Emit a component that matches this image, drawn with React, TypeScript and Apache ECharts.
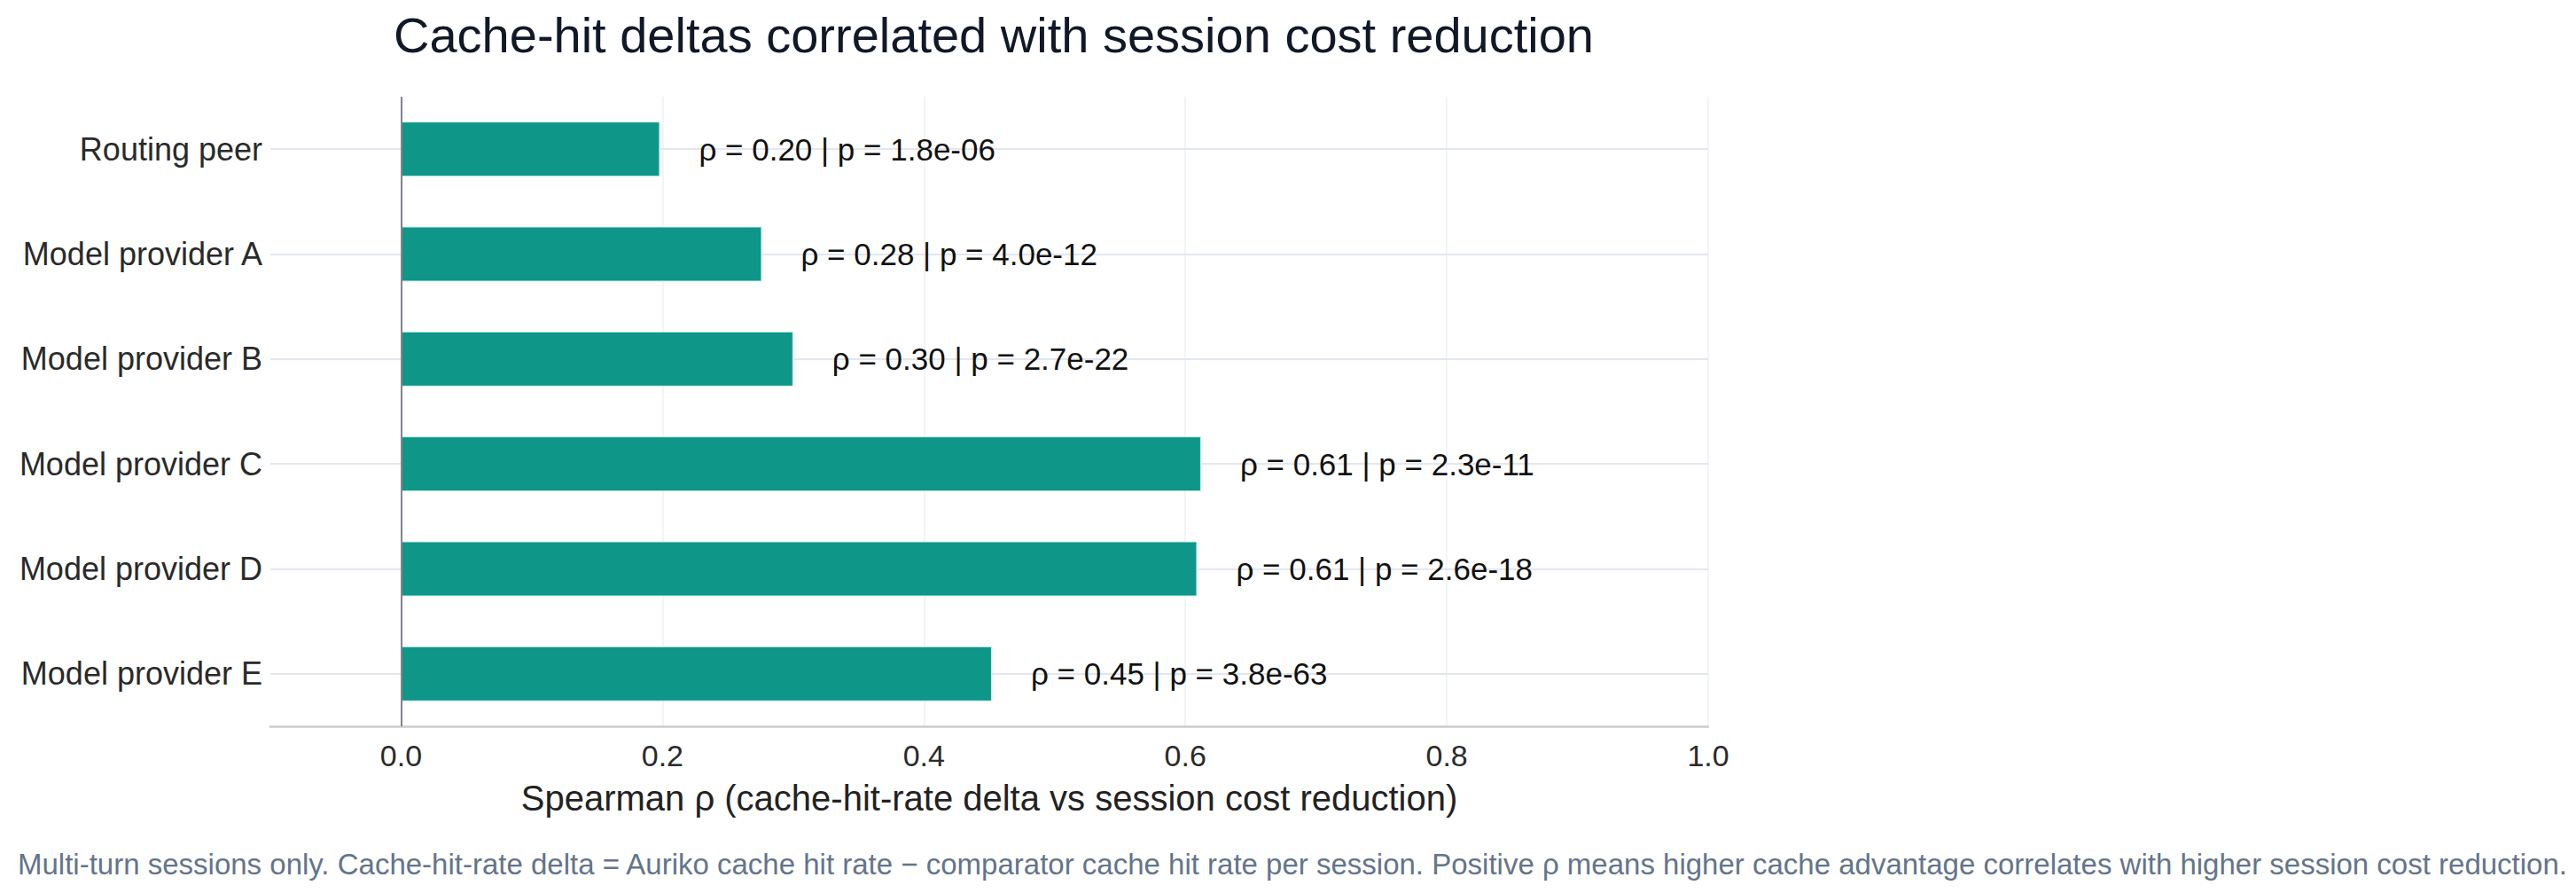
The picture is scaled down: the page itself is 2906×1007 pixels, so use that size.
import React, { useEffect, useRef } from 'react';
import * as echarts from 'echarts';

// 类别与数据
const categories = [
  'Routing peer',
  'Model provider A',
  'Model provider B',
  'Model provider C',
  'Model provider D',
  'Model provider E',
];
const rhoValues = [0.198, 0.276, 0.3, 0.612, 0.609, 0.452];
const pValues = ['1.8e-06', '4.0e-12', '2.7e-22', '2.3e-11', '2.6e-18', '3.8e-63'];
const xTicks = [0, 0.2, 0.4, 0.6, 0.8, 1.0];

const titleText = 'Cache-hit deltas correlated with session cost reduction';
const xAxisName = 'Spearman ρ (cache-hit-rate delta vs session cost reduction)';
const footnote =
  'Multi-turn sessions only. Cache-hit-rate delta = Auriko cache hit rate − comparator cache hit rate per session. Positive ρ means higher cache advantage correlates with higher session cost reduction.';

const FONT = '"Liberation Sans", Arial, Helvetica, sans-serif';

const App: React.FC = () => {
  const chartRef = useRef<HTMLDivElement>(null);

  useEffect(() => {
    document.body.style.margin = '0';
    if (!chartRef.current) return;
    const chart = echarts.init(chartRef.current, undefined, { renderer: 'svg' });

    chart.setOption({
      animation: false,
      backgroundColor: '#ffffff',
      textStyle: { fontFamily: FONT },
      title: [
        {
          text: titleText,
          left: 1116,
          textAlign: 'center',
          top: 6,
          textStyle: { fontSize: 56, fontWeight: 'normal', color: '#111827', fontFamily: FONT },
        },
        {
          text: footnote,
          left: 1453,
          textAlign: 'center',
          top: 953,
          textStyle: { fontSize: 33, fontWeight: 'normal', color: '#64748b', fontFamily: FONT },
        },
      ],
      grid: {
        left: 305,
        right: 979,
        top: 109,
        bottom: 188,
        containLabel: false,
        outerBoundsMode: 'none',
      },
      xAxis: {
        type: 'value',
        min: -0.1,
        max: 1.0,
        name: xAxisName,
        nameLocation: 'middle',
        nameGap: 61,
        nameTextStyle: { fontSize: 40, color: '#222222', fontFamily: FONT },
        axisLine: { show: true, onZero: false, lineStyle: { color: '#cccccc', width: 2.5 } },
        axisTick: { show: false, customValues: xTicks },
        axisLabel: {
          customValues: xTicks,
          formatter: (v: number) => v.toFixed(1),
          fontSize: 34,
          color: '#2a2a2a',
          margin: 16,
          fontFamily: FONT,
        },
        splitLine: {
          show: true,
          showMinLine: false,
          lineStyle: { color: '#eff1f4', width: 1.5 },
        },
      },
      yAxis: {
        type: 'category',
        inverse: true,
        data: categories,
        axisLine: { show: false, onZero: false },
        axisTick: {
          show: true,
          inside: true,
          alignWithLabel: true,
          length: 1622,
          lineStyle: { color: '#e2e7ef', width: 2 },
        },
        axisLabel: {
          fontSize: 36,
          color: '#2a2a2a',
          margin: 9,
          fontFamily: FONT,
        },
        splitLine: { show: false },
      },
      series: [
        {
          type: 'bar',
          data: rhoValues,
          barWidth: 62,
          itemStyle: { color: '#0e9688', borderColor: '#cdeee9', borderWidth: 1 },
          label: {
            show: true,
            position: 'right',
            distance: 44,
            fontSize: 35,
            color: '#111111',
            fontFamily: FONT,
            formatter: (p: any) =>
              `ρ = ${rhoValues[p.dataIndex].toFixed(2)} | p = ${pValues[p.dataIndex]}`,
          },
          markLine: {
            silent: true,
            symbol: ['none', 'none'],
            label: { show: false },
            lineStyle: { color: '#80848d', width: 2, type: 'solid' },
            data: [{ xAxis: 0 }],
          },
        },
      ],
    });

    return () => {
      chart.dispose();
    };
  }, []);

  return <div ref={chartRef} style={{ width: '2906px', height: '1007px' }}></div>;
};

export default App;
